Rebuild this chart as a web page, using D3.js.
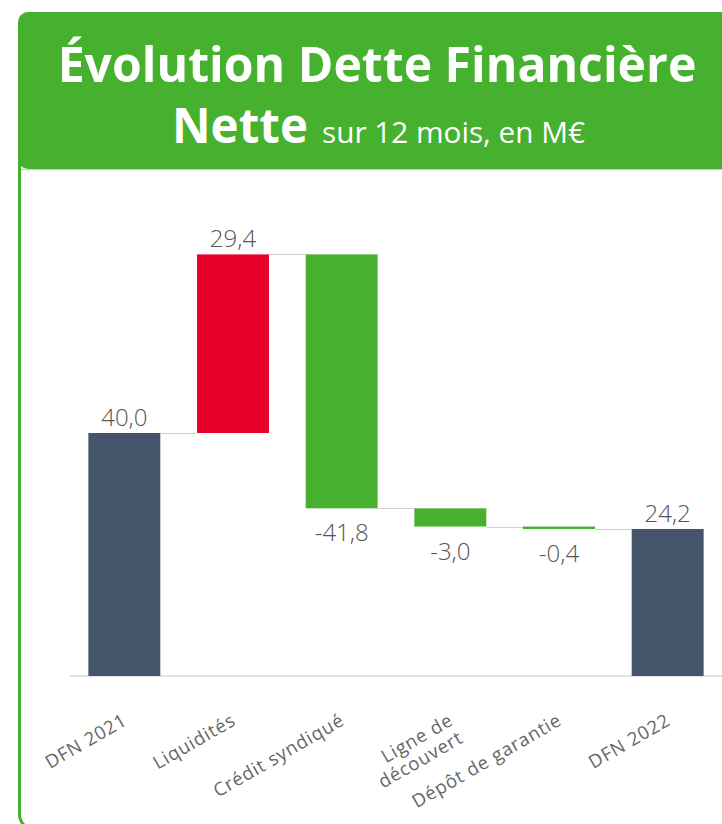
<!DOCTYPE html>
<html><head><meta charset="utf-8">
<script src="https://cdn.jsdelivr.net/npm/d3@7"></script>
<style>html,body{margin:0;padding:0;background:#fff;}svg{display:block;}</style>
</head><body>
<svg id="c" width="722" height="824"></svg>
<script>
const categories = ["DFN 2021", "Liquidités", "Crédit syndiqué", "Ligne de\ndécouvert", "Dépôt de garantie", "DFN 2022"];
const values = [40.0, 29.4, -41.8, -3.0, -0.4, 24.2];
const kinds = ["total", "delta", "delta", "delta", "delta", "total"];
const titleLine1 = "Évolution Dette Financière";
const titleBold2 = "Nette";
const titleSub = "sur 12 mois, en M€";

const green = "#45b12f", red = "#e8002a", slate = "#44546a", grey = "#555555";
const svg = d3.select("#c");

// card
svg.append("rect").attr("x", 19.5).attr("y", 30).attr("width", 760).attr("height", 800)
  .attr("rx", 16).attr("fill", "#fff").attr("stroke", green).attr("stroke-width", 3);
// header
svg.append("rect").attr("x", 18).attr("y", 12).attr("width", 760).attr("height", 157)
  .attr("rx", 10).attr("fill", green);
svg.append("line").attr("x1", 21).attr("x2", 722).attr("y1", 169.5).attr("y2", 169.5)
  .attr("stroke", "#c8cfc4").attr("stroke-width", 1);

function fit(sel, target) {
  const w = sel.node().getComputedTextLength();
  const fs = parseFloat(sel.attr("font-size"));
  sel.attr("font-size", fs * target / w);
}
const t1 = svg.append("text").attr("x", 377).attr("y", 82).attr("text-anchor", "middle")
  .attr("font-family", "Open Sans").attr("font-weight", 700).attr("font-size", 44)
  .attr("fill", "#fff").text(titleLine1);
fit(t1, 639);
const t2 = svg.append("text").attr("x", 172).attr("y", 143)
  .attr("font-family", "Open Sans").attr("font-weight", 700).attr("font-size", 44)
  .attr("fill", "#fff").text(titleBold2);
fit(t2, 136);
const t3 = svg.append("text").attr("x", 322).attr("y", 143)
  .attr("font-family", "Open Sans").attr("font-weight", 400).attr("font-size", 24)
  .attr("fill", "#fff").text(titleSub);
fit(t3, 263);

// data
let run = 0;
const rows = categories.map((c, i) => {
  let y0, y1;
  if (kinds[i] === "total") { y0 = 0; y1 = values[i]; run = values[i]; }
  else { y0 = run; y1 = run + values[i]; run = y1; }
  return { c, v: values[i], kind: kinds[i], y0, y1, i };
});

const x = d3.scaleBand().domain(categories).range([70, 722]).paddingInner(0.338).paddingOuter(0.169);
const y = d3.scaleLinear().domain([0, 80]).range([676, 190]);

// baseline
svg.append("line").attr("x1", 70).attr("x2", 722).attr("y1", y(0)).attr("y2", y(0))
  .attr("stroke", "#d9d9d9").attr("stroke-width", 1.5);

// connectors
rows.slice(0, -1).forEach((d, i) => {
  const n = rows[i + 1];
  svg.append("line").attr("x1", x(d.c) + x.bandwidth()).attr("x2", x(n.c))
    .attr("y1", Math.round(y(d.y1)) + 0.5).attr("y2", Math.round(y(d.y1)) + 0.5)
    .attr("stroke", "#d0d0d0").attr("stroke-width", 1);
});

const color = d => d.kind === "total" ? slate : (d.v > 0 ? red : green);
svg.selectAll("rect.bar").data(rows).join("rect").attr("class", "bar")
  .attr("x", d => x(d.c)).attr("width", x.bandwidth())
  .attr("y", d => y(Math.max(d.y0, d.y1)))
  .attr("height", d => Math.abs(y(d.y0) - y(d.y1)))
  .attr("fill", color);

const fmt = v => d3.format(".1f")(v).replace(".", ",").replace("−", "-");
svg.selectAll("text.val").data(rows).join("text").attr("class", "val")
  .attr("x", d => x(d.c) + x.bandwidth() / 2)
  .attr("y", d => d.v >= 0 ? y(Math.max(d.y0, d.y1)) - 7 : y(Math.min(d.y0, d.y1)) + 33)
  .attr("text-anchor", "middle").attr("font-family", "Open Sans").attr("font-weight", 300)
  .attr("font-size", 24).attr("fill", grey).text(d => fmt(d.v));

// axis labels
const lab = svg.selectAll("text.cat").data(rows).join("text").attr("class", "cat")
  .attr("text-anchor", "end").attr("font-family", "Open Sans").attr("font-weight", 400)
  .attr("font-size", 18.5).attr("letter-spacing", 0.8).attr("fill", "#666")
  .attr("transform", d => `translate(${x(d.c) + x.bandwidth() / 2 + 4},${724}) rotate(-30)`);
lab.each(function (d) {
  const parts = d.c.split("\n");
  d3.select(this).selectAll("tspan").data(parts).join("tspan")
    .attr("x", 0).attr("dy", (p, j) => j === 0 ? 0 : "1.1em").text(p => p);
});
</script>
</body></html>
